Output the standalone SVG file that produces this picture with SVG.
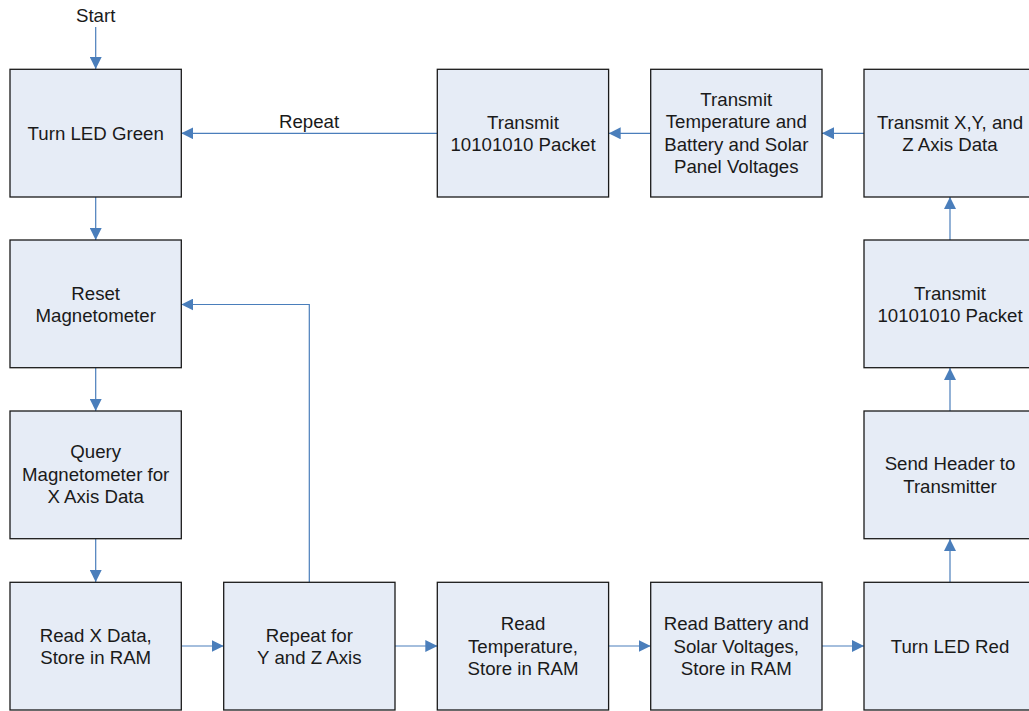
<svg xmlns="http://www.w3.org/2000/svg" width="1029" height="711" viewBox="0 0 1029 711">
<style>
.box{fill:#e6ecf6;stroke:#1a1a1a;stroke-width:1.3}
.t{font-family:"Liberation Sans",Arial,sans-serif;font-size:18.67px;fill:#1a1a1a;text-anchor:middle}
.c{fill:none;stroke:#4a7ebb;stroke-width:1.2}
</style>
<defs>
<marker id="ah" markerUnits="userSpaceOnUse" markerWidth="12" markerHeight="12" refX="12" refY="6" orient="auto" viewBox="0 0 12 12">
<path d="M0,0 L12,6 L0,12 z" fill="#4a7ebb"/>
</marker>
</defs>
<rect width="1029" height="711" fill="#ffffff"/>
<g id="connectors">
<line class="c" x1="95.7" y1="27" x2="95.7" y2="69" marker-end="url(#ah)"/>
<line class="c" x1="95.7" y1="197" x2="95.7" y2="240" marker-end="url(#ah)"/>
<line class="c" x1="95.7" y1="368" x2="95.7" y2="411" marker-end="url(#ah)"/>
<line class="c" x1="95.7" y1="539" x2="95.7" y2="582" marker-end="url(#ah)"/>
<line class="c" x1="181.3" y1="646" x2="223.7" y2="646" marker-end="url(#ah)"/>
<line class="c" x1="395" y1="646" x2="437.3" y2="646" marker-end="url(#ah)"/>
<line class="c" x1="608.7" y1="646" x2="650.7" y2="646" marker-end="url(#ah)"/>
<line class="c" x1="822" y1="646" x2="864" y2="646" marker-end="url(#ah)"/>
<line class="c" x1="950" y1="582" x2="950" y2="539" marker-end="url(#ah)"/>
<line class="c" x1="950" y1="411" x2="950" y2="368" marker-end="url(#ah)"/>
<line class="c" x1="950" y1="240" x2="950" y2="197" marker-end="url(#ah)"/>
<line class="c" x1="864" y1="133.3" x2="822" y2="133.3" marker-end="url(#ah)"/>
<line class="c" x1="650.7" y1="133.3" x2="608.7" y2="133.3" marker-end="url(#ah)"/>
<line class="c" x1="437.3" y1="133.3" x2="181.3" y2="133.3" marker-end="url(#ah)"/>
<polyline class="c" points="309.3,582 309.3,304.5 181.3,304.5" marker-end="url(#ah)"/>
<text class="t" x="309" y="128">Repeat</text>
<text class="t" x="95.7" y="22">Start</text>
</g>
<g id="n1"><rect class="box" x="10" y="69.3" width="171.3" height="127.7"/>
<text class="t" x="95.7" y="139.5">Turn LED Green</text></g>
<g id="n2"><rect class="box" x="10" y="240" width="171.3" height="127.7"/>
<text class="t" x="95.7" y="299.5">Reset</text><text class="t" x="95.7" y="322">Magnetometer</text></g>
<g id="n3"><rect class="box" x="10" y="411" width="171.3" height="127.7"/>
<text class="t" x="95.7" y="458">Query</text><text class="t" x="95.7" y="480.5">Magnetometer for</text><text class="t" x="95.7" y="503">X Axis Data</text></g>
<g id="n4"><rect class="box" x="10" y="582.3" width="171.3" height="127.7"/>
<text class="t" x="95.7" y="641.5">Read X Data,</text><text class="t" x="95.7" y="664">Store in RAM</text></g>
<g id="n5"><rect class="box" x="223.7" y="582.3" width="171.3" height="127.7"/>
<text class="t" x="309.3" y="641.5">Repeat for</text><text class="t" x="309.3" y="664">Y and Z Axis</text></g>
<g id="n6"><rect class="box" x="437.3" y="582.3" width="171.3" height="127.7"/>
<text class="t" x="523" y="630">Read</text><text class="t" x="523" y="652.5">Temperature,</text><text class="t" x="523" y="675">Store in RAM</text></g>
<g id="n7"><rect class="box" x="650.7" y="582.3" width="171.3" height="127.7"/>
<text class="t" x="736.3" y="630">Read Battery and</text><text class="t" x="736.3" y="652.5">Solar Voltages,</text><text class="t" x="736.3" y="675">Store in RAM</text></g>
<g id="n8"><rect class="box" x="864" y="582.3" width="171.3" height="127.7"/>
<text class="t" x="950" y="652.5">Turn LED Red</text></g>
<g id="n9"><rect class="box" x="864" y="411" width="171.3" height="127.7"/>
<text class="t" x="950" y="470">Send Header to</text><text class="t" x="950" y="492.5">Transmitter</text></g>
<g id="n10"><rect class="box" x="864" y="240" width="171.3" height="127.7"/>
<text class="t" x="950" y="299.5">Transmit</text><text class="t" x="950" y="322">10101010 Packet</text></g>
<g id="n11"><rect class="box" x="864" y="69.3" width="171.3" height="127.7"/>
<text class="t" x="950" y="128.5">Transmit X,Y, and</text><text class="t" x="950" y="151">Z Axis Data</text></g>
<g id="n12"><rect class="box" x="650.7" y="69.3" width="171.3" height="127.7"/>
<text class="t" x="736.3" y="105.5">Transmit</text><text class="t" x="736.3" y="128">Temperature and</text><text class="t" x="736.3" y="150.5">Battery and Solar</text><text class="t" x="736.3" y="173">Panel Voltages</text></g>
<g id="n13"><rect class="box" x="437.3" y="69.3" width="171.3" height="127.7"/>
<text class="t" x="523" y="128.5">Transmit</text><text class="t" x="523" y="151">10101010 Packet</text></g>
</svg>
